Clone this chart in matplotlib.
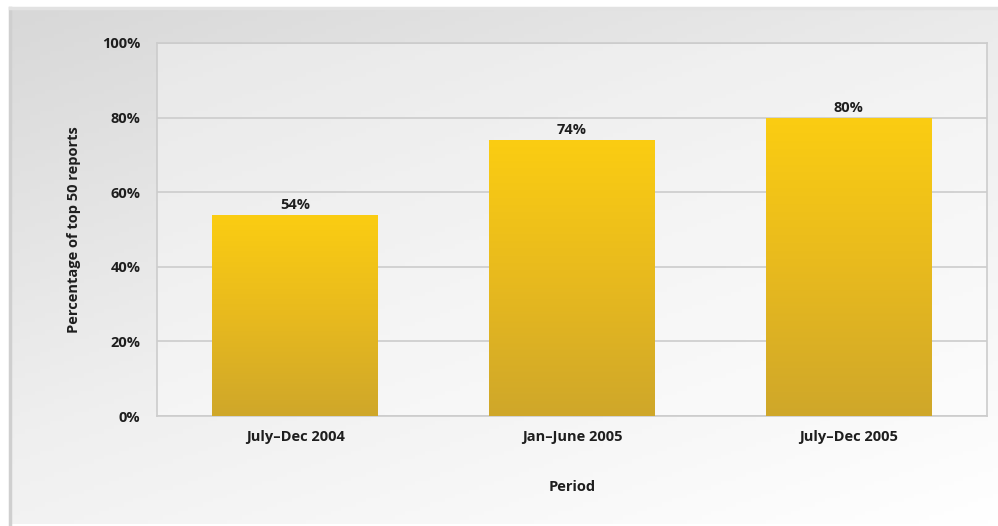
import numpy as np
import matplotlib
matplotlib.use("Agg")
import matplotlib.pyplot as plt
from matplotlib.colors import LinearSegmentedColormap

categories = ["July\u2013Dec 2004", "Jan\u2013June 2005", "July\u2013Dec 2005"]
values = [54, 74, 80]
yticks = [0, 20, 40, 60, 80, 100]

W, H = 998, 526
fig = plt.figure(figsize=(W/100, H/100), dpi=100)
fig.patch.set_facecolor("white")

# background gradient panel
bg = fig.add_axes([10/W, 2/H, (W-10)/W, (H-10)/H])
bg.set_axis_off()
xx, yy = np.meshgrid(np.linspace(0, 1, 200), np.linspace(0, 1, 120))
val = 0.4*xx + 0.6*yy  # 0 at top-left, 1 at bottom-right
bgcmap = LinearSegmentedColormap.from_list("bg", ["#d8d8d8", "#efefef", "#ffffff"])
bg.imshow(val, cmap=bgcmap, aspect="auto", extent=[0, 1, 0, 1], origin="upper")
bg.set_xlim(0, 1); bg.set_ylim(0, 1)
bg.plot([0, 0], [0, 1], color="#cfcfcf", lw=2.5, transform=bg.transAxes, clip_on=False)
bg.plot([0, 1], [1, 1], color="#e2e2e2", lw=2.5, transform=bg.transAxes, clip_on=False)

FS = 10.5
TXT = dict(fontsize=FS, fontweight="bold", color="#1e1e1e", family="Open Sans")

ax = fig.add_axes([157/W, (H-416)/H, 830/W, 373/H])
ax.patch.set_facecolor("white")
ax.patch.set_alpha(0.35)
for s in ax.spines.values():
    s.set_color("#cccccc"); s.set_linewidth(1.2)
ax.set_yticks(yticks)
ax.yaxis.grid(True, color="#cccccc", lw=1.2)
ax.set_axisbelow(True)
ax.tick_params(length=0)
ax.tick_params(axis="y", pad=12)
ax.tick_params(axis="x", pad=10)
ax.set_yticklabels([f"{t}%" for t in yticks], **TXT)
ax.set_xticks(range(len(categories)))
ax.set_xticklabels(categories, **TXT)

barcmap = LinearSegmentedColormap.from_list("bar", ["#cfa72a", "#e8ba1e", "#fbcd12"])
bars = ax.bar(range(len(categories)), values, width=0.6, color="none", edgecolor="none")
gimg = np.linspace(0, 1, 256).reshape(-1, 1)
for b, v in zip(bars, values):
    x0 = b.get_x(); w = b.get_width(); h = b.get_height()
    im = ax.imshow(gimg, cmap=barcmap, aspect="auto", extent=[x0, x0+w, 0, h], origin="lower", zorder=3)
    im.set_clip_path(b)
    ax.annotate(f"{v}%", (x0+w/2, h), xytext=(0, 2), textcoords="offset points",
                ha="center", va="bottom", **TXT)
ax.set_xlim(-0.5, 2.5)
ax.set_ylim(0, 100)

ax.set_ylabel("Percentage of top 50 reports", labelpad=15, **TXT)
ax.set_xlabel("Period", labelpad=26, **TXT)

fig.savefig("out.png", dpi=100)
